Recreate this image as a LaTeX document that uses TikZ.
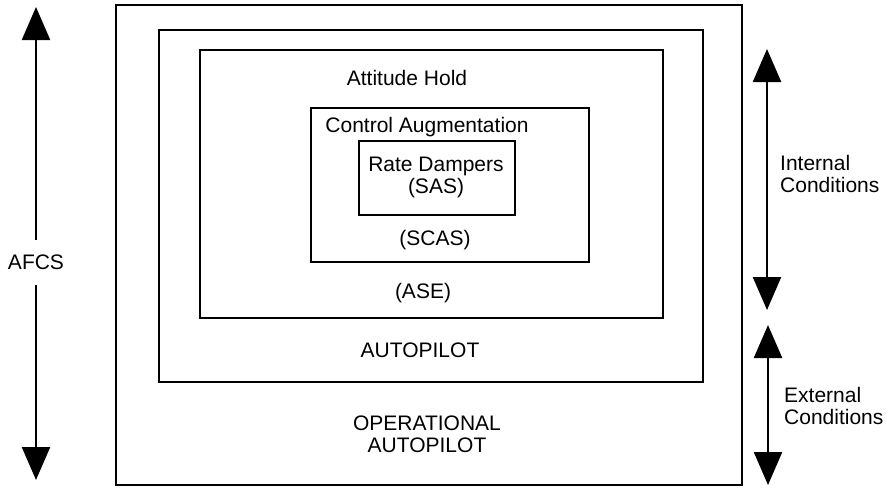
\documentclass[tikz,border=0pt]{standalone}
\usepackage{fontspec}
\setmainfont{Liberation Sans}
\usetikzlibrary{arrows.meta}
\begin{document}
\begin{tikzpicture}[x=1pt,y=-1pt,
  frame/.style={draw, line width=2.4pt, inner sep=0pt, outer sep=0pt, anchor=north west},
  lbl/.style={font=\fontsize{21}{22}\selectfont, align=center, inner sep=0pt},
  arr/.style={line width=2.4pt, -{Triangle[length=33pt,width=28pt]}},
  dbl/.style={line width=2.4pt, {Triangle[length=33pt,width=28pt]}-{Triangle[length=33pt,width=28pt]}}]
\useasboundingbox (0,0) rectangle (893,488);
% nested frames
\node[frame, minimum width=626pt, minimum height=480pt] (outer) at (116,5) {};
\node[frame, minimum width=544pt, minimum height=352pt] (ap) at (159,30) {};
\node[frame, minimum width=463pt, minimum height=268pt] (ase) at (200,50) {};
\node[frame, minimum width=278pt, minimum height=154pt] (scas) at (311,108) {};
\node[frame, minimum width=156pt, minimum height=74pt] (sas) at (359,141) {};
% labels
\node[lbl] (attitude) at (407,78) {Attitude Hold};
\node[lbl] (ctrlaug) at (427,127) {Control Augmentation};
\node[lbl] (rate) at (436,177) {Rate Dampers\\(SAS)};
\node[lbl] (scaslbl) at (435,240) {(SCAS)};
\node[lbl] (aselbl) at (423,293) {(ASE)};
\node[lbl] (aplbl) at (420,350) {AUTOPILOT};
\node[lbl] (oplbl) at (427,434) {OPERATIONAL\\AUTOPILOT};
% AFCS arrow
\node[lbl, minimum height=45pt] (afcs) at (36,262.5) {AFCS};
\coordinate (afcsT) at (36,7);
\coordinate (afcsB) at (36,480);
\draw[arr] (afcs.north) -- (afcsT);
\draw[arr] (afcs.south) -- (afcsB);
% internal conditions
\coordinate (inT) at (767,49);
\coordinate (inB) at (767,310);
\draw[dbl] (inT) -- (inB);
\node[lbl, align=left, anchor=west] (inlbl) at (780,174) {Internal\\Conditions};
% external conditions
\coordinate (exT) at (768,325);
\coordinate (exB) at (768,485);
\draw[dbl] (exT) -- (exB);
\node[lbl, align=left, anchor=west] (exlbl) at (784,406) {External\\Conditions};
\end{tikzpicture}
\end{document}
